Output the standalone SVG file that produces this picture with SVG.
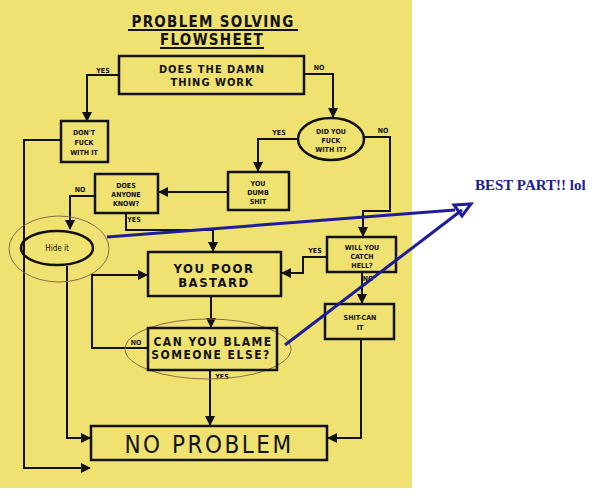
<svg xmlns="http://www.w3.org/2000/svg" width="604" height="501" viewBox="0 0 604 501">
<defs>
<style>
.box{fill:none;stroke:#111;stroke-width:2.5}
.ln{fill:none;stroke:#111;stroke-width:2}
.t{font-family:"DejaVu Sans Condensed","DejaVu Sans",sans-serif;font-weight:bold;fill:#111;text-anchor:middle}
.s{font-size:7px}
.m{font-size:11px;letter-spacing:1px}
.lab{font-size:7px}
.hl{fill:none;stroke:#8a6a4a;stroke-width:1}
.blue{fill:none;stroke:#1c1c9c;stroke-width:3}
.thin{font-weight:normal}
</style>
<marker id="ah" viewBox="0 0 10 10" refX="9" refY="5" markerWidth="5" markerHeight="5" orient="auto" markerUnits="strokeWidth">
<path d="M0,0 L10,5 L0,10 z" fill="#111"/>
</marker>
</defs>
<rect x="0" y="0" width="604" height="501" fill="#ffffff"/>
<rect x="0" y="0" width="412" height="488" fill="#f0e270"/>

<g id="title">
<text class="t" x="213" y="27" font-size="15" letter-spacing="1.3">PROBLEM SOLVING</text>
<line x1="128" y1="30" x2="298" y2="30" stroke="#111" stroke-width="2"/>
<text class="t" x="212" y="45" font-size="15" letter-spacing="1.3">FLOWSHEET</text>
<line x1="160" y1="48" x2="264" y2="48" stroke="#111" stroke-width="2"/>
</g>

<g id="connectors">
<polyline class="ln" points="119,75 87,75 87,121" marker-end="url(#ah)"/>
<polyline class="ln" points="304,74 333,74 333,117" marker-end="url(#ah)"/>
<polyline class="ln" points="61,140 24,140 24,468 90,468" marker-end="url(#ah)"/>
<polyline class="ln" points="298,139 258,139 258,171" marker-end="url(#ah)"/>
<polyline class="ln" points="364,137 390,137 390,211 363,211 363,236" marker-end="url(#ah)"/>
<polyline class="ln" points="228,192 159,192" marker-end="url(#ah)"/>
<polyline class="ln" points="95,196 70,196 70,229" marker-end="url(#ah)"/>
<polyline class="ln" points="126,213 126,230 213,230 213,251" marker-end="url(#ah)"/>
<polyline class="ln" points="67,266 67,438 90,438" marker-end="url(#ah)"/>
<polyline class="ln" points="327,257 303,257 303,273 282,273" marker-end="url(#ah)"/>
<polyline class="ln" points="362,272 362,303" marker-end="url(#ah)"/>
<polyline class="ln" points="361,339 361,438 328,438" marker-end="url(#ah)"/>
<polyline class="ln" points="211,296 211,327" marker-end="url(#ah)"/>
<polyline class="ln" points="148,348 92,348 92,275 147,275" marker-end="url(#ah)"/>
<polyline class="ln" points="210,370 210,425" marker-end="url(#ah)"/>
<text class="t lab" x="103" y="73">YES</text>
<text class="t lab" x="319" y="70">NO</text>
<text class="t lab" x="279" y="135">YES</text>
<text class="t lab" x="383" y="133">NO</text>
<text class="t lab" x="80" y="192">NO</text>
<text class="t lab" x="134" y="222">YES</text>
<text class="t lab" x="315" y="253">YES</text>
<text class="t lab" x="368" y="281">NO</text>
<text class="t lab" x="136" y="345">NO</text>
<text class="t lab" x="222" y="379">YES</text>
</g>

<g id="n-works">
<rect class="box" x="119" y="56" width="185" height="38"/>
<text class="t m" x="212" y="73">DOES THE DAMN</text>
<text class="t m" x="212" y="86">THING WORK</text>
</g>

<g id="n-dont">
<rect class="box" x="61" y="121" width="47" height="41"/>
<text class="t s" x="84" y="135">DON'T</text>
<text class="t s" x="84" y="145">FUCK</text>
<text class="t s" x="84" y="155">WITH IT</text>
</g>

<g id="n-didyou">
<ellipse class="box" cx="331" cy="139" rx="33" ry="21"/>
<text class="t s" x="331" y="134">DID YOU</text>
<text class="t s" x="331" y="143">FUCK</text>
<text class="t s" x="331" y="152">WITH IT?</text>
</g>

<g id="n-dumb">
<rect class="box" x="228" y="172" width="61" height="38"/>
<text class="t s" x="258" y="186">YOU</text>
<text class="t s" x="258" y="195">DUMB</text>
<text class="t s" x="258" y="204">SHIT</text>
</g>

<g id="n-anyone">
<rect class="box" x="95" y="174" width="63" height="39"/>
<text class="t s" x="126" y="188">DOES</text>
<text class="t s" x="126" y="197">ANYONE</text>
<text class="t s" x="126" y="206">KNOW?</text>
</g>

<g id="n-hide">
<ellipse class="hl" cx="59" cy="249" rx="50" ry="33"/>
<ellipse class="box" cx="57" cy="248" rx="36" ry="17"/>
<text class="t thin" x="57" y="251" font-size="8">Hide it</text>
</g>

<g id="n-poor">
<rect class="box" x="148" y="252" width="133" height="44"/>
<text class="t" x="214" y="273" font-size="13" letter-spacing="1.5">YOU POOR</text>
<text class="t" x="214" y="287" font-size="13" letter-spacing="1.5">BASTARD</text>
</g>

<g id="n-catch">
<rect class="box" x="327" y="237" width="69" height="35"/>
<text class="t s" x="362" y="250">WILL YOU</text>
<text class="t s" x="362" y="259">CATCH</text>
<text class="t s" x="362" y="268">HELL?</text>
</g>

<g id="n-shitcan">
<rect class="box" x="325" y="304" width="69" height="35" stroke-width="1.5"/>
<text class="t s" x="360" y="320">SHIT-CAN</text>
<text class="t s" x="360" y="330">IT</text>
</g>

<g id="n-blame">
<ellipse class="hl" cx="208" cy="349" rx="83" ry="30"/>
<rect class="box" x="148" y="328" width="129" height="42"/>
<text class="t" x="213" y="346" font-size="12" letter-spacing="1.5">CAN YOU BLAME</text>
<text class="t" x="211" y="359" font-size="12" letter-spacing="1.5">SOMEONE ELSE?</text>
</g>

<g id="n-noproblem">
<rect class="box" x="91" y="426" width="236" height="34" stroke-width="1.8"/>
<text class="t thin" x="209" y="453" font-size="24" letter-spacing="2.5">NO PROBLEM</text>
</g>

<g id="annotation">
<line class="blue" x1="107" y1="237" x2="455" y2="210"/>
<line class="blue" x1="285" y1="345" x2="462" y2="210"/>
<polygon points="454,205 471,204 462,216" fill="none" stroke="#1c1c9c" stroke-width="3"/>
<text x="475" y="190" font-family="Liberation Serif, serif" font-weight="bold" font-size="15" fill="#1c1c8c">BEST PART!! lol</text>
</g>
</svg>
